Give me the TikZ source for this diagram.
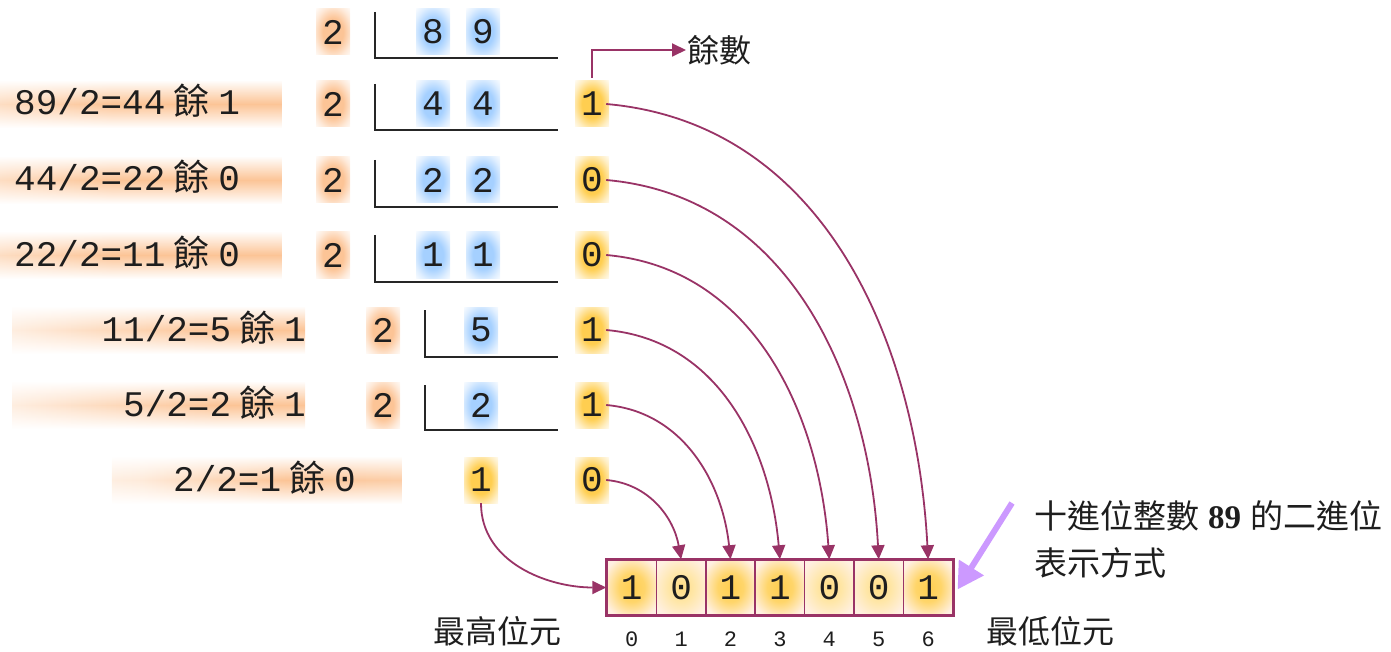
\documentclass[tikz,border=0pt]{standalone}
\usepackage{fontspec}
\setmainfont{Liberation Mono}
\newfontfamily\cjk{Noto Sans CJK TC}
\newfontfamily\serifb{Liberation Serif}
\usetikzlibrary{arrows.meta,fadings,shadings}
\definecolor{mag}{RGB}{153,51,102}
\definecolor{lav}{RGB}{204,153,255}
\definecolor{orgl}{RGB}{252,196,150}
\definecolor{bluel}{RGB}{165,208,255}
\definecolor{yel}{RGB}{255,206,80}
\definecolor{peach}{RGB}{255,240,226}
\definecolor{ink}{RGB}{30,30,30}
\pgfdeclarehorizontalshading{bandA}{100bp}{color(0bp)=(white); color(14bp)=(orgl!35); color(45bp)=(orgl); color(84bp)=(orgl); color(100bp)=(white)}
\pgfdeclarehorizontalshading{bandB}{100bp}{color(0bp)=(white); color(25bp)=(orgl!30); color(60bp)=(orgl); color(88bp)=(orgl); color(100bp)=(white)}
\pgfdeclarehorizontalshading{bandC}{100bp}{color(0bp)=(white); color(30bp)=(orgl!35); color(55bp)=(orgl); color(80bp)=(orgl!80); color(100bp)=(white)}
\pgfdeclareradialshading{gO}{\pgfpoint{0bp}{0bp}}{color(0bp)=(orgl); color(15bp)=(orgl); color(28bp)=(orgl!35); color(38bp)=(white); color(50bp)=(white)}
\pgfdeclareradialshading{gB}{\pgfpoint{0bp}{0bp}}{color(0bp)=(bluel); color(15bp)=(bluel); color(28bp)=(bluel!35); color(38bp)=(white); color(50bp)=(white)}
\pgfdeclareradialshading{gY}{\pgfpoint{0bp}{0bp}}{color(0bp)=(yel); color(15bp)=(yel); color(28bp)=(yel!35); color(38bp)=(white); color(50bp)=(white)}
\pgfdeclareradialshading{gC}{\pgfpoint{0bp}{0bp}}{color(0bp)=(yel); color(13bp)=(yel!85); color(30bp)=(peach); color(50bp)=(peach)}
\pgfdeclareradialshading{gCz}{\pgfpoint{0bp}{0bp}}{color(0bp)=(yel!70); color(13bp)=(yel!50); color(30bp)=(peach); color(50bp)=(peach)}
\tikzfading[name=vfade, top color=transparent!100, bottom color=transparent!100, middle color=transparent!0]
\tikzset{
  dig/.style={font=\fontsize{36}{40}\selectfont, text=ink, inner sep=0pt, minimum width=34pt, minimum height=46pt},
  dO/.style={dig, shade, shading=gO},
  dB/.style={dig, shade, shading=gB},
  dY/.style={dig, shade, shading=gY},
  cellbox/.style={dig, shade, shading=gC, draw=mag, line width=1.5pt, minimum width=49.4pt, minimum height=55pt},
  cellzero/.style={cellbox, shading=gCz},
  lbl/.style={font=\fontsize{36}{40}\selectfont, text=ink, inner sep=0pt},
  cjklbl/.style={font=\cjk\fontsize{32}{36}\selectfont, text=ink, inner sep=1pt},
  annot/.style={font=\cjk\fontsize{33}{38}\selectfont, text=ink, inner sep=1pt},
  idx/.style={font=\fontsize{22}{24}\selectfont, text=ink, inner sep=0pt},
  divline/.style={line width=2.8pt, draw=black!85},
  conn/.style={draw=mag, line width=1.8pt, -{Triangle[length=14pt,width=13pt]}},
  lavarrow/.style={draw=lav, line width=6pt, -{Triangle[length=26pt,width=28pt]}}
}
\begin{document}
\begin{tikzpicture}[x=1pt,y=-1pt]
\useasboundingbox (0,0) rectangle (1391,652);
% glowing bands behind the calculation labels
\shade[shading=bandA, path fading=vfade] (0,80) rectangle (282,128);
\shade[shading=bandA, path fading=vfade] (0,156) rectangle (282,204);
\shade[shading=bandA, path fading=vfade] (0,231) rectangle (282,279);
\shade[shading=bandB, path fading=vfade] (12,306) rectangle (305,354);
\shade[shading=bandB, path fading=vfade] (12,381) rectangle (305,429);
\shade[shading=bandC, path fading=vfade] (112,456) rectangle (402,504);
% labels
\node[lbl, anchor=base west] (l1) at (14,115) {89/2=44\hspace{8pt}{\cjk 餘}\hspace{9pt}1};
\node[lbl, anchor=base west] (l2) at (14,191) {44/2=22\hspace{8pt}{\cjk 餘}\hspace{9pt}0};
\node[lbl, anchor=base west] (l3) at (14,266) {22/2=11\hspace{8pt}{\cjk 餘}\hspace{9pt}0};
\node[lbl, anchor=base east] (l4) at (306,341) {11/2=5\hspace{8pt}{\cjk 餘}\hspace{9pt}1};
\node[lbl, anchor=base east] (l5) at (306,416) {5/2=2\hspace{8pt}{\cjk 餘}\hspace{9pt}1};
\node[lbl, anchor=base east] (l6) at (356,491) {2/2=1\hspace{8pt}{\cjk 餘}\hspace{9pt}0};
% row 0
\node[dO] (d0) at (333,32) {2};
\node[dB] (q0a) at (433,32) {8};
\node[dB] (q0b) at (483,32) {9};
\draw[divline] (375,12) |- (558,58);
% row 1
\node[dO] (d1) at (333,104) {2};
\node[dB] (q1a) at (433,104) {4};
\node[dB] (q1b) at (483,104) {4};
\draw[divline] (375,84) |- (558,130);
\node[dY] (r1) at (592,104) {1};
% row 2
\node[dO] (d2) at (333,180) {2};
\node[dB] (q2a) at (433,180) {2};
\node[dB] (q2b) at (483,180) {2};
\draw[divline] (375,160) |- (558,207);
\node[dY] (r2) at (592,180) {0};
% row 3
\node[dO] (d3) at (333,255) {2};
\node[dB] (q3a) at (433,255) {1};
\node[dB] (q3b) at (483,255) {1};
\draw[divline] (375,235) |- (558,282);
\node[dY] (r3) at (592,255) {0};
% row 4
\node[dO] (d4) at (383,330) {2};
\node[dB] (q4) at (481,330) {5};
\draw[divline] (425,310) |- (558,357);
\node[dY] (r4) at (592,330) {1};
% row 5
\node[dO] (d5) at (383,405) {2};
\node[dB] (q5) at (481,405) {2};
\draw[divline] (425,385) |- (558,430);
\node[dY] (r5) at (592,405) {1};
% row 6
\node[dY] (q6) at (481,480) {1};
\node[dY] (r6) at (592,480) {0};
% remainder label
\node[cjklbl, anchor=west] (yushu) at (686,50) {餘數};
\draw[conn] ([yshift=3pt]r1.north) |- (yushu.west);
% the array
\node[cellbox]  (c0) at (631.7,587.5) {1};
\node[cellzero] (c1) at (681.1,587.5) {0};
\node[cellbox]  (c2) at (730.5,587.5) {1};
\node[cellbox]  (c3) at (779.9,587.5) {1};
\node[cellzero] (c4) at (829.3,587.5) {0};
\node[cellzero] (c5) at (878.7,587.5) {0};
\node[cellbox]  (c6) at (928.1,587.5) {1};
\draw[mag, line width=3pt] (c0.north west) rectangle (c6.south east);
% indices
\node[idx] (i0) at (631.7,639) {0};
\node[idx] (i1) at (681.1,639) {1};
\node[idx] (i2) at (730.5,639) {2};
\node[idx] (i3) at (779.9,639) {3};
\node[idx] (i4) at (829.3,639) {4};
\node[idx] (i5) at (878.7,639) {5};
\node[idx] (i6) at (928.1,639) {6};
\node[cjklbl] (msb) at (497,631) {最高位元};
\node[cjklbl] (lsb) at (1050,631) {最低位元};
% connectors
\draw[conn] ([xshift=-3pt]r1.east) to[out=-5,in=93] (c6.north);
\draw[conn] ([xshift=-3pt]r2.east) to[out=-5,in=93] (c5.north);
\draw[conn] ([xshift=-3pt]r3.east) to[out=-5,in=94] (c4.north);
\draw[conn] ([xshift=-3pt]r4.east) to[out=-5,in=95] (c3.north);
\draw[conn] ([xshift=-3pt]r5.east) to[out=-5,in=96] (c2.north);
\draw[conn] ([xshift=-3pt]r6.east) to[out=-5,in=100] (c1.north);
\draw[conn] (q6.south) to[out=-90,in=180] (c0.west);
% annotation
\node[annot, anchor=base west] (an1) at (1033,528) {十進位整數\hspace{9pt}{\serifb\bfseries 89}\hspace{9pt}的二進位};
\node[annot, anchor=base west] (an2) at (1033,575) {表示方式};
\coordinate (lv) at (1012,503);
\draw[lavarrow] (lv) -- ([xshift=4pt,yshift=-2pt]c6.east);
\end{tikzpicture}
\end{document}
